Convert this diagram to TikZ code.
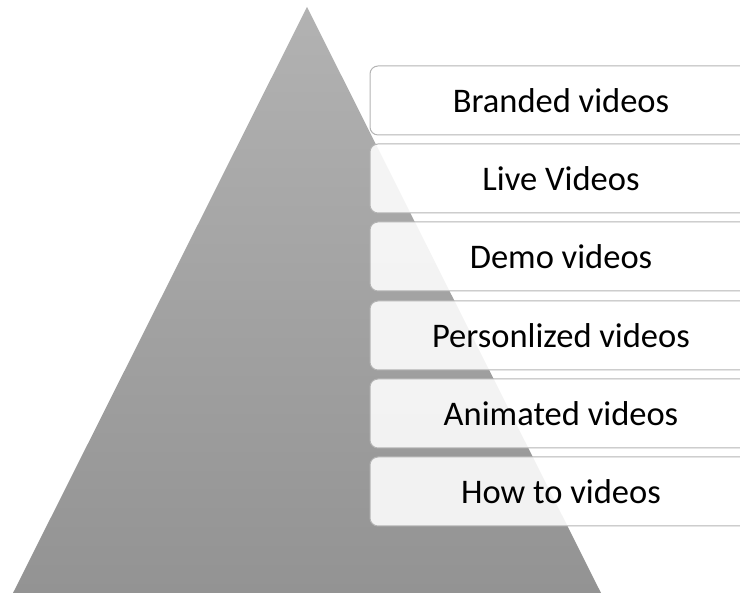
\documentclass[tikz,border=0pt]{standalone}
\usepackage{fontspec}
\setmainfont{Carlito}
\usetikzlibrary{shapes.geometric}

\definecolor{pyrtop}{RGB}{178,178,178}
\definecolor{pyrbot}{RGB}{147,147,147}
\definecolor{vidline}{RGB}{180,180,180}

\begin{document}
\begin{tikzpicture}[x=1pt,y=1pt,
    vid/.style = {rectangle, rounded corners=8pt, draw=vidline, line width=1pt,
                  fill=white, fill opacity=0.88, text opacity=1,
                  minimum width=382pt, minimum height=69pt,
                  font=\fontsize{34.5}{40}\selectfont}]

            %\draw [help lines] (0,0) grid (740,593);
            \useasboundingbox (0,0) rectangle (740,593);
            \clip (0,0) rectangle (740,593);

            % the pyramid
            \coordinate (top) at (307,586);
            \coordinate (bl) at (13,0);
            \coordinate (br) at (601,0);
            \shade[top color=pyrtop, bottom color=pyrbot] (bl) -- (top) -- (br) -- cycle;

            % the labels, top to bottom
            \path   (561,492.5) node (a) [vid] {Branded videos}
                    (561,414.5) node (b) [vid] {Live Videos}
                    (561,336.5) node (c) [vid] {Demo videos}
                    (561,257.5) node (d) [vid] {Personlized videos}
                    (561,179.5) node (e) [vid] {Animated videos}
                    (561,101.5) node (f) [vid] {How to videos};
        \end{tikzpicture}
\end{document}
